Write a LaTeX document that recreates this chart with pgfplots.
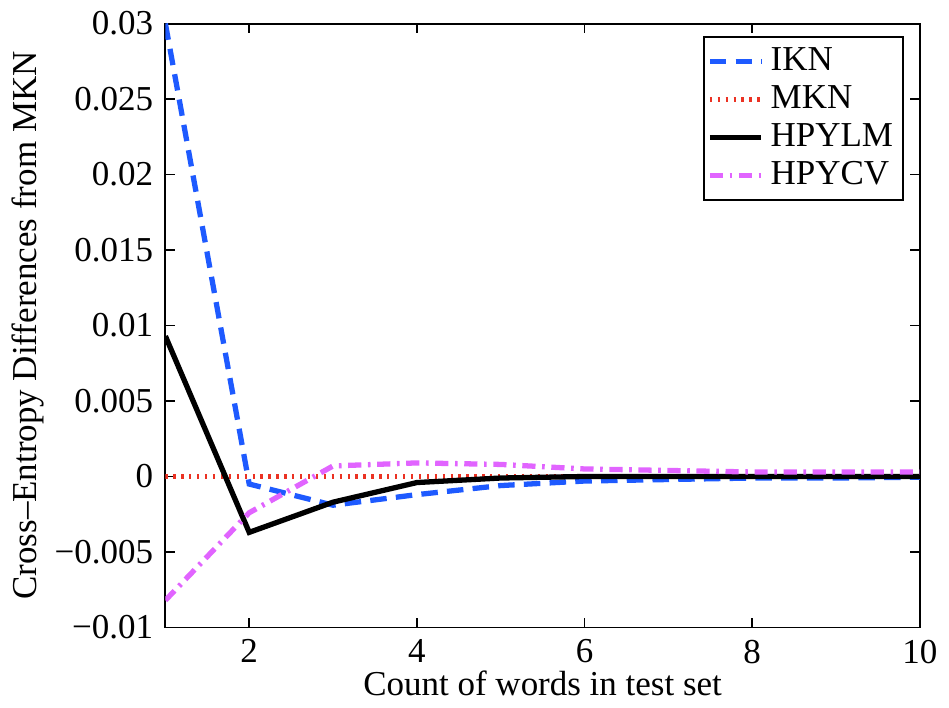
\documentclass[border=0pt]{standalone}
\usepackage{fontspec}
\setmainfont{Liberation Serif}
\usepackage{pgfplots}
\pgfplotsset{compat=1.18}

\definecolor{iknblue}{RGB}{30,90,255}
\definecolor{mknred}{RGB}{235,50,35}
\definecolor{cvpink}{RGB}{225,100,255}

\begin{document}
\fontsize{10.6}{12}\selectfont
\begin{tikzpicture}
\begin{axis}[
    scale only axis,
    width=228.6pt,
    height=183pt,
    xmin=1, xmax=10,
    ymin=-0.01, ymax=0.03,
    scaled y ticks=false,
    xtick={2,4,6,8,10},
    ytick={-0.01,-0.005,0,0.005,0.01,0.015,0.02,0.025,0.03},
    yticklabels={\textminus0.01,\textminus0.005,0,0.005,0.01,0.015,0.02,0.025,0.03},
    xticklabels={2,4,6,8,10},
    tick align=inside,
    tick style={black, line width=0.5pt},
    major tick length=3pt,
    axis line style={line width=0.6pt},
    xlabel={Count of words in test set},
    ylabel={Cross\textendash Entropy Differences from MKN},
    xlabel style={yshift=5pt},
    ylabel style={yshift=-4pt},
    tick label style={font=\fontsize{10.6}{12}\selectfont},
    label style={font=\fontsize{10.6}{12}\selectfont},
    legend style={at={(0.979,0.979)}, anchor=north east,
        draw=black, line width=0.6pt, font=\fontsize{10.6}{12}\selectfont,
        inner sep=1pt, row sep=-1pt},
    legend cell align=left,
    legend image code/.code={\draw[#1] (0cm,0cm) -- (0.55cm,0cm);},
]

\addplot[iknblue, line width=1.6pt, dash pattern=on 5pt off 2.8pt] coordinates {
(1,0.0300) (2,-0.0005) (3,-0.0019) (4,-0.0012) (5,-0.0006)
(6,-0.0003) (7,-0.0002) (8,-0.0001) (9,-0.0001) (10,-0.00005)
};
\addlegendentry{IKN}

\addplot[mknred, line width=1.4pt, dash pattern=on 0.7pt off 1.7pt] coordinates {
(1,0) (2,0) (3,0) (4,0) (5,0) (6,0) (7,0) (8,0) (9,0) (10,0)
};
\addlegendentry{MKN}

\addplot[black, line width=1.6pt] coordinates {
(1,0.0093) (2,-0.0037) (3,-0.0017) (4,-0.0004) (5,-0.0001)
(6,0) (7,0) (8,0) (9,0) (10,0)
};
\addlegendentry{HPYLM}

\addplot[cvpink, line width=1.6pt, dash pattern=on 4pt off 2pt on 0.8pt off 2pt] coordinates {
(1,-0.0082) (2,-0.0024) (3,0.0007) (4,0.0009) (5,0.0008)
(6,0.0005) (7,0.0004) (8,0.0003) (9,0.0003) (10,0.0003)
};
\addlegendentry{HPYCV}

\end{axis}
\end{tikzpicture}
\end{document}
